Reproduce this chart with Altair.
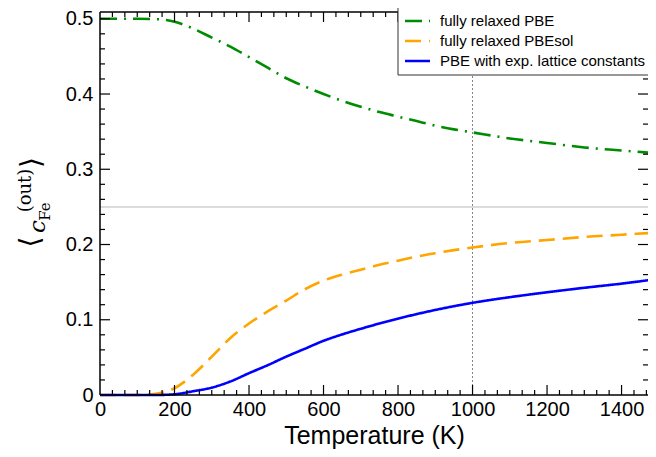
import altair as alt
import pandas as pd

# ---------------- data ----------------
temperature = [0, 50, 100, 150, 200, 250, 300, 350, 400, 450, 500, 550, 600,
               650, 700, 750, 800, 850, 900, 950, 1000, 1100, 1200, 1300,
               1400, 1500]
pbe_relaxed = [0.500, 0.500, 0.500, 0.4995, 0.496, 0.487, 0.475, 0.463,
               0.449, 0.435, 0.421, 0.410, 0.400, 0.391, 0.383, 0.376, 0.370,
               0.364, 0.358, 0.353, 0.349, 0.341, 0.335, 0.329, 0.325, 0.321]
pbesol_relaxed = [0.0, 0.0, 0.0, 0.0015, 0.009, 0.027, 0.051, 0.0757, 0.095,
                  0.111, 0.1255, 0.1405, 0.152, 0.160, 0.1665, 0.173, 0.1785,
                  0.184, 0.1885, 0.1925, 0.196, 0.202, 0.206, 0.210, 0.213,
                  0.216]
pbe_exp_lattice = [0.0, 0.0, 0.0, 0.0, 0.001, 0.005, 0.0098, 0.018, 0.029,
                   0.0396, 0.051, 0.0615, 0.072, 0.0805, 0.088, 0.095, 0.1015,
                   0.1075, 0.113, 0.118, 0.1225, 0.130, 0.1365, 0.1425, 0.148,
                   0.1545]

series_names = ["fully relaxed PBE", "fully relaxed PBEsol",
                "PBE with exp. lattice constants"]
series_values = [pbe_relaxed, pbesol_relaxed, pbe_exp_lattice]

x_tick_labels = [0, 200, 400, 600, 800, 1000, 1200, 1400]
y_tick_labels = [0, 0.1, 0.2, 0.3, 0.4, 0.5]
x_minor = [round(i * 200 / 6, 2) for i in range(1, 45) if i % 6]
y_minor = [round(i * 0.02, 2) for i in range(1, 26) if i % 5]
ref_y = [0.25]
ref_x = [1000]

# ---------------- styling ----------------
W, H = 548, 383
X_MAX, Y_MAX = 1471, 0.509
colors = ["#008c00", "#ffa500", "#0000ff"]
dashes = [[17, 7, 2, 7], [16, 8], [1, 0]]
FRAME = "black"

xs = alt.Scale(domain=[0, X_MAX], nice=False, zero=False)
ys = alt.Scale(domain=[0, Y_MAX], nice=False, zero=False)

X_AXIS = alt.Axis(values=x_tick_labels, ticks=False, domain=False, grid=False,
                  format="d", labelFontSize=20, labelPadding=4,
                  labelFont="Liberation Sans", labelColor="black",
                  labelFlush=False, title="Temperature (K)", titleFontSize=25,
                  titleFont="Liberation Sans", titleColor="black",
                  titleFontWeight="normal", titleBaseline="alphabetic",
                  titleY=48)
Y_AXIS = alt.Axis(values=y_tick_labels, ticks=False, domain=False, grid=False,
                  labelFontSize=20, labelPadding=7, labelFlush=False,
                  labelFont="Liberation Sans", labelColor="black",
                  labelExpr="datum.value == 0 ? '0' : format(datum.value, '.1f')",
                  title="")

one = pd.DataFrame({"k": [0]})

# ---------------- reference lines ----------------
hline = alt.Chart(pd.DataFrame({"v": ref_y})).mark_rule(
    color="#d0d0d0", strokeWidth=1.5).encode(
    y=alt.Y("v:Q", scale=ys, axis=Y_AXIS))

vline = alt.Chart(pd.DataFrame({"v": ref_x})).mark_rule(
    color="#808080", strokeWidth=1, strokeDash=[2, 2]).encode(
    x=alt.X("v:Q", scale=xs, axis=X_AXIS))

# ---------------- curves (one layer per series) ----------------
curves = []
for name, vals, col, dash in zip(series_names, series_values, colors, dashes):
    d = pd.DataFrame({"T": temperature, "c": vals})
    curves.append(alt.Chart(d).mark_line(
        color=col, strokeDash=dash, strokeWidth=2.6,
        interpolate="monotone").encode(
        x=alt.X("T:Q", scale=xs, axis=X_AXIS),
        y=alt.Y("c:Q", scale=ys, axis=Y_AXIS)))

# ---------------- frame (left, bottom, top) and inward ticks ----------------
frame = [
    alt.Chart(one).mark_rule(color=FRAME, strokeWidth=1.5).encode(
        x=alt.value(0), y=alt.value(0), y2=alt.value(H)),
    alt.Chart(one).mark_rule(color=FRAME, strokeWidth=1.5).encode(
        y=alt.value(H), x=alt.value(0), x2=alt.value(W)),
    alt.Chart(one).mark_rule(color=FRAME, strokeWidth=1.5).encode(
        y=alt.value(0), x=alt.value(0), x2=alt.value(W)),
]


def tick_layer(values, side, length):
    d = pd.DataFrame({"v": values})
    m = alt.Chart(d).mark_rule(color=FRAME, strokeWidth=1.2)
    if side == "left":
        return m.encode(y=alt.Y("v:Q", scale=ys, axis=Y_AXIS),
                        x=alt.value(0), x2=alt.value(length))
    if side == "right":
        return m.encode(y=alt.Y("v:Q", scale=ys, axis=Y_AXIS),
                        x=alt.value(W - length), x2=alt.value(W))
    if side == "bottom":
        return m.encode(x=alt.X("v:Q", scale=xs, axis=X_AXIS),
                        y=alt.value(H - length), y2=alt.value(H))
    return m.encode(x=alt.X("v:Q", scale=xs, axis=X_AXIS),
                    y=alt.value(0), y2=alt.value(length))


ticks = []
for side in ["left", "right"]:
    ticks.append(tick_layer(y_tick_labels[1:], side, 10))
    ticks.append(tick_layer(y_minor, side, 5))
for side in ["bottom", "top"]:
    ticks.append(tick_layer(x_tick_labels[1:], side, 10))
    ticks.append(tick_layer(x_minor, side, 5))

# ---------------- legend (drawn by hand, top right) ----------------
LX, LY, ROW = 298, -5, 20
legend_layers = [
    alt.Chart(one).mark_rect(fill="white", stroke="#333333",
                             strokeWidth=1).encode(
        x=alt.value(LX), x2=alt.value(W + 12),
        y=alt.value(LY), y2=alt.value(LY + 68)),
]
for i, (name, col, dash) in enumerate(zip(series_names, colors, dashes)):
    yrow = LY + 14 + i * ROW
    legend_layers.append(
        alt.Chart(one).mark_rule(color=col, strokeDash=dash,
                                 strokeWidth=2.6).encode(
            x=alt.value(LX + 7), x2=alt.value(LX + 32), y=alt.value(yrow)))
    legend_layers.append(
        alt.Chart(one).mark_text(align="left", baseline="middle",
                                 font="Liberation Sans", fontSize=15,
                                 color="black").encode(
            x=alt.value(LX + 42), y=alt.value(yrow), text=alt.value(name)))


# ---------------- y-axis title  <c_Fe^(out)>  ----------------
def piece(txt, x, y, size, font, style="normal", baseline="alphabetic"):
    return alt.Chart(one).mark_text(
        angle=270, align="center", baseline=baseline, font=font,
        fontSize=size, fontStyle=style, color="black").encode(
        x=alt.value(x), y=alt.value(y), text=alt.value(txt))


ytitle = [
    piece("⟨", -69, 230, 28, "DejaVu Sans", baseline="middle"),
    piece("c", -55, 214.5, 23, "DejaVu Serif", style="italic"),
    piece("Fe", -50, 199.5, 15, "DejaVu Serif"),
    piece("(out)", -69, 178.5, 18, "DejaVu Serif"),
    piece("⟩", -68, 150.5, 28, "DejaVu Sans", baseline="middle"),
]

chart = alt.layer(hline, vline, *curves, *frame, *ticks, *legend_layers,
                  *ytitle).properties(
    width=W, height=H,
    autosize=alt.AutoSizeParams(type="none"),
    padding={"left": 92, "top": 4, "right": 0, "bottom": 54},
).configure_view(strokeWidth=0)

chart.save("out.html", embed_options={"renderer": "svg", "actions": False})
